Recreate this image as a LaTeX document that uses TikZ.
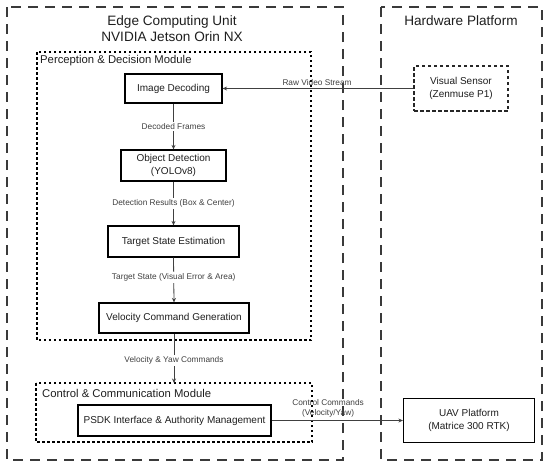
\documentclass[tikz,border=0pt]{standalone}
\usepackage{fontspec}
\setmainfont{Liberation Sans}
\usetikzlibrary{arrows.meta}
\definecolor{frame}{HTML}{3A3A3A}
\definecolor{txt}{HTML}{1E1E1E}
\definecolor{lbl}{HTML}{404040}
\begin{document}
\begin{tikzpicture}[x=1pt,y=-1pt,
  outerbox/.style={draw=frame,line width=1.6pt,dash pattern=on 10pt off 7pt},
  modbox/.style={draw=black,line width=1.1pt,dash pattern=on 2.5pt off 2.5pt},
  sensbox/.style={draw=black!85,line width=1.1pt,dash pattern=on 3.5pt off 2.5pt,align=center,font=\fontsize{10}{13.5}\selectfont,text=txt,inner sep=0pt},
  procbox/.style={draw=black,line width=1.2pt,rectangle,align=center,font=\fontsize{10}{13.5}\selectfont,text=txt,inner sep=0pt},
  title/.style={font=\fontsize{13.6}{16}\selectfont,text=txt,align=center},
  modlabel/.style={font=\fontsize{11.3}{13}\selectfont,text=txt,anchor=west,inner sep=0pt},
  flowlabel/.style={font=\fontsize{8.3}{10}\selectfont,text=lbl,fill=white,inner sep=1.5pt,align=center},
  conn/.style={draw=black!75,line width=0.8pt,-{Stealth[length=4.5pt,width=4pt]}}
]
\useasboundingbox (0,0) rectangle (550,469);
% outer containers
\draw[outerbox] (7,7) rectangle (343,460);
\draw[outerbox] (381,7) rectangle (542,460);
\node[title] (edgetitle) at (172,29) {Edge Computing Unit\\NVIDIA Jetson Orin NX};
\node[title] (hwtitle) at (461,21) {Hardware Platform};
% modules
\draw[modbox] (37,52) rectangle (311,340);
\node[modlabel] (permod) at (40,61) {Perception \& Decision Module};
\draw[modbox] (36,383) rectangle (312,442);
\coordinate (ctrltop) at (174,383);
\node[modlabel] (ctrlmod) at (42,393) {Control \& Communication Module};
% process boxes
\node[procbox,minimum width=97pt,minimum height=29pt] (imgdec) at (173.5,88.5) {Image Decoding};
\node[procbox,minimum width=105pt,minimum height=31pt] (objdet) at (173.5,165.5) {Object Detection\\(YOLOv8)};
\node[procbox,minimum width=131pt,minimum height=31pt] (tse) at (173.5,241.5) {Target State Estimation};
\node[procbox,minimum width=150pt,minimum height=30pt] (vcg) at (174,318) {Velocity Command Generation};
\node[procbox,minimum width=193pt,minimum height=31pt] (psdk) at (174.5,420.5) {PSDK Interface \& Authority Management};
\node[procbox,minimum width=131pt,minimum height=44pt] (uav) at (469,420.5) {UAV Platform\\(Matrice 300 RTK)};
\node[sensbox,minimum width=94pt,minimum height=45pt] (sensor) at (461,88.5) {Visual Sensor\\(Zenmuse P1)};
% connectors
\draw[conn] (sensor.west) -- node[flowlabel,fill=none,above=1pt,xshift=-1pt] (rawlbl) {Raw Video Stream} (imgdec.east);
\draw[conn] (imgdec.south) -- node[flowlabel] (declbl) {Decoded Frames} (objdet.north);
\draw[conn] (objdet.south) -- node[flowlabel] (detlbl) {Detection Results (Box \& Center)} (tse.north);
\draw[conn] (tse.south) -- node[flowlabel,pos=0.45] (tslbl) {Target State (Visual Error \& Area)} (vcg.north);
\draw[conn] (vcg.south) -- node[flowlabel,pos=0.54] (vylbl) {Velocity \& Yaw Commands} (ctrltop);
\draw[conn] (psdk.east) -- node[flowlabel,fill=none,above=1pt,pos=0.43] (cclbl) {Control Commands\\(Velocity/Yaw)} (uav.west);
\end{tikzpicture}
\end{document}
